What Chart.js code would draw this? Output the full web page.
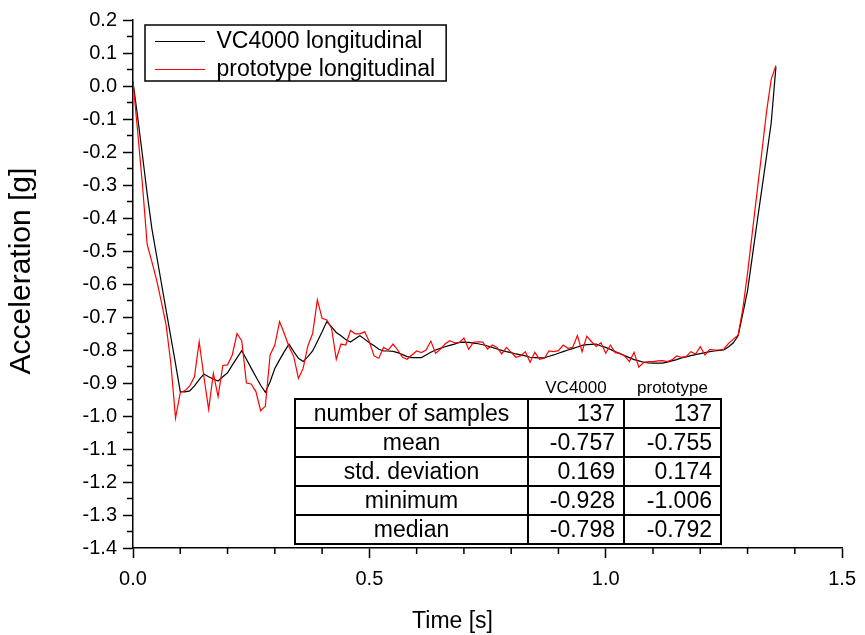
<!DOCTYPE html>
<html>
<head>
<meta charset="utf-8">
<script src="https://cdn.jsdelivr.net/npm/chart.js@4.4.0/dist/chart.umd.min.js"></script>
<style>
    html, body { margin: 0; padding: 0; background: #fff; }
    #wrap { position: relative; width: 865px; height: 635px; }
    #stats {
        position: absolute; left: 294px; top: 377px;
        border-collapse: collapse; table-layout: fixed;
        font-family: 'Liberation Sans', Arial, sans-serif; color: #000;
    }
    #stats td { border: 2px solid #000; height: 27px; padding: 0 8px; font-size: 23px; line-height: 27px; }
    #stats td.name { text-align: center; }
    #stats td.num { text-align: right; }
    #stats th { font-weight: normal; font-size: 17px; height: 21px; text-align: center; padding: 0; }
</style>
</head>
<body>
<div id="wrap">
    <canvas id="accelChart" width="865" height="635"></canvas>
    <table id="stats"></table>
</div>
<script>
// --- Datos ---
const timeS = [
    0.00, 0.01, 0.02, 0.03, 0.04, 0.05, 0.06, 0.07, 0.08, 0.09,
    0.10, 0.11, 0.12, 0.13, 0.14, 0.15, 0.16, 0.17, 0.18, 0.19,
    0.20, 0.21, 0.22, 0.23, 0.24, 0.25, 0.26, 0.27, 0.28, 0.29,
    0.30, 0.31, 0.32, 0.33, 0.34, 0.35, 0.36, 0.37, 0.38, 0.39,
    0.40, 0.41, 0.42, 0.43, 0.44, 0.45, 0.46, 0.47, 0.48, 0.49,
    0.50, 0.51, 0.52, 0.53, 0.54, 0.55, 0.56, 0.57, 0.58, 0.59,
    0.60, 0.61, 0.62, 0.63, 0.64, 0.65, 0.66, 0.67, 0.68, 0.69,
    0.70, 0.71, 0.72, 0.73, 0.74, 0.75, 0.76, 0.77, 0.78, 0.79,
    0.80, 0.81, 0.82, 0.83, 0.84, 0.85, 0.86, 0.87, 0.88, 0.89,
    0.90, 0.91, 0.92, 0.93, 0.94, 0.95, 0.96, 0.97, 0.98, 0.99,
    1.00, 1.01, 1.02, 1.03, 1.04, 1.05, 1.06, 1.07, 1.08, 1.09,
    1.10, 1.11, 1.12, 1.13, 1.14, 1.15, 1.16, 1.17, 1.18, 1.19,
    1.20, 1.21, 1.22, 1.23, 1.24, 1.25, 1.26, 1.27, 1.28, 1.29,
    1.30, 1.31, 1.32, 1.33, 1.34, 1.35, 1.36
];

const vc4000Long = [
    0.013, -0.096, -0.210, -0.327, -0.433, -0.515, -0.597, -0.679, -0.760, -0.842,
    -0.926, -0.927, -0.924, -0.909, -0.890, -0.873, -0.881, -0.888, -0.894, -0.881,
    -0.869, -0.846, -0.824, -0.802, -0.828, -0.855, -0.881, -0.907, -0.928, -0.896,
    -0.856, -0.830, -0.805, -0.782, -0.805, -0.825, -0.835, -0.820, -0.803, -0.774,
    -0.745, -0.714, -0.730, -0.747, -0.757, -0.768, -0.776, -0.766, -0.757, -0.767,
    -0.778, -0.787, -0.798, -0.803, -0.803, -0.804, -0.808, -0.814, -0.820, -0.823,
    -0.823, -0.823, -0.815, -0.807, -0.800, -0.795, -0.790, -0.786, -0.782, -0.777,
    -0.776, -0.777, -0.779, -0.781, -0.784, -0.788, -0.792, -0.797, -0.801, -0.805,
    -0.808, -0.812, -0.815, -0.818, -0.822, -0.823, -0.824, -0.824, -0.819, -0.815,
    -0.810, -0.805, -0.800, -0.796, -0.791, -0.786, -0.784, -0.783, -0.782, -0.788,
    -0.792, -0.798, -0.805, -0.811, -0.817, -0.823, -0.829, -0.833, -0.837, -0.839,
    -0.840, -0.840, -0.840, -0.837, -0.833, -0.829, -0.824, -0.821, -0.817, -0.814,
    -0.811, -0.808, -0.805, -0.803, -0.801, -0.800, -0.790, -0.778, -0.757, -0.690,
    -0.620, -0.518, -0.415, -0.315, -0.214, -0.112, 0.058
];

const prototypeLong = [
    0.013, -0.140, -0.300, -0.480, -0.533, -0.588, -0.654, -0.724, -0.840, -1.006,
    -0.929, -0.923, -0.909, -0.881, -0.775, -0.881, -0.980, -0.871, -0.941, -0.847,
    -0.845, -0.815, -0.750, -0.772, -0.900, -0.903, -0.926, -0.984, -0.970, -0.815,
    -0.785, -0.714, -0.750, -0.790, -0.820, -0.886, -0.855, -0.787, -0.750, -0.648,
    -0.704, -0.709, -0.734, -0.828, -0.782, -0.785, -0.741, -0.751, -0.751, -0.745,
    -0.775, -0.818, -0.825, -0.792, -0.800, -0.782, -0.800, -0.822, -0.828, -0.815,
    -0.803, -0.808, -0.800, -0.773, -0.810, -0.798, -0.782, -0.772, -0.778, -0.778,
    -0.764, -0.798, -0.777, -0.775, -0.776, -0.797, -0.785, -0.792, -0.812, -0.792,
    -0.807, -0.822, -0.818, -0.805, -0.837, -0.807, -0.828, -0.825, -0.803, -0.805,
    -0.802, -0.785, -0.795, -0.792, -0.756, -0.805, -0.758, -0.775, -0.789, -0.778,
    -0.810, -0.785, -0.808, -0.810, -0.818, -0.835, -0.807, -0.852, -0.838, -0.835,
    -0.835, -0.833, -0.832, -0.835, -0.830, -0.818, -0.822, -0.820, -0.805, -0.812,
    -0.790, -0.815, -0.798, -0.800, -0.800, -0.797, -0.780, -0.767, -0.755, -0.675,
    -0.567, -0.445, -0.323, -0.203, -0.080, 0.020, 0.062
];

// Tabla de estadísticas
const statColumns = ['VC4000', 'prototype'];
const statNames = ['number of samples', 'mean', 'std. deviation', 'minimum', 'median'];
const statsVC4000 = ['137', '-0.757', '0.169', '-0.928', '-0.798'];
const statsPrototype = ['137', '-0.755', '0.174', '-1.006', '-0.792'];

const xTitle = 'Time [s]';
const yTitle = 'Acceleration [g]';

const FONT = "'Liberation Sans', Arial, sans-serif";

// --- Tabla HTML encima del gráfico ---
function buildStatsTable() {
    const table = document.getElementById('stats');
    let html = '<colgroup><col style="width:233px"><col style="width:96px"><col style="width:97px"></colgroup>';
    html += '<tr><th></th><th>' + statColumns[0] + '</th><th>' + statColumns[1] + '</th></tr>';
    statNames.forEach((name, i) => {
        html += '<tr><td class="name">' + name + '</td><td class="num">' + statsVC4000[i] +
                '</td><td class="num">' + statsPrototype[i] + '</td></tr>';
    });
    table.innerHTML = html;
}

// Marcas menores de los ejes
const minorTicks = {
    id: 'minorTicks',
    afterDraw(chart) {
        const { ctx, scales: { x, y } } = chart;
        ctx.save();
        ctx.strokeStyle = '#000';
        ctx.lineWidth = 1.5;
        ctx.beginPath();
        for (let i = 1; i < 15; i++) {
            if (i % 5 === 0) continue;
            const px = x.getPixelForValue(i / 10);
            ctx.moveTo(px, y.bottom);
            ctx.lineTo(px, y.bottom + 6);
        }
        for (let i = 0; i < 16; i++) {
            const py = y.getPixelForValue(-1.35 + i / 10);
            ctx.moveTo(x.left - 6, py);
            ctx.lineTo(x.left, py);
        }
        ctx.stroke();
        ctx.restore();
    }
};

// Títulos de los ejes (desplazados como en el original)
const axisTitles = {
    id: 'axisTitles',
    afterDraw(chart) {
        const { ctx, chartArea } = chart;
        ctx.save();
        ctx.fillStyle = '#000';
        ctx.textAlign = 'center';
        ctx.textBaseline = 'middle';
        ctx.font = '23px ' + FONT;
        ctx.fillText(xTitle, (chartArea.left + chartArea.right) / 2 - 35, chart.height - 13);
        ctx.translate(22, (chartArea.top + chartArea.bottom) / 2 - 13);
        ctx.rotate(-Math.PI / 2);
        ctx.font = '30px ' + FONT;
        ctx.fillText(yTitle, 0, 0);
        ctx.restore();
    }
};

// Leyenda dentro del área con marco
const legendFrame = {
    id: 'legendFrame',
    beforeDraw(chart) {
        const legend = chart.legend;
        legend.left = chart.chartArea.left + 17;
        legend.top = chart.chartArea.top + 5;
    },
    afterDraw(chart) {
        const legend = chart.legend;
        const { ctx } = chart;
        const opts = legend.options.labels;
        const size = opts.font.size;
        ctx.save();
        ctx.font = size + 'px ' + FONT;
        const textW = Math.max(...chart.data.datasets.map(d => ctx.measureText(d.label).width));
        const x0 = legend.left - 5;
        const y0 = legend.top;
        const w = 5 + opts.padding + opts.pointStyleWidth + size / 2 + textW + 11;
        const h = chart.data.datasets.length * (size + opts.padding);
        ctx.strokeStyle = '#000';
        ctx.lineWidth = 1.5;
        ctx.strokeRect(x0, y0, w, h);
        ctx.restore();
    }
};

function createAccelChart(ctx) {
    new Chart(ctx, {
        type: 'line',
        data: {
            datasets: [{
                label: 'VC4000 longitudinal',
                data: timeS.map((t, i) => ({ x: t, y: vc4000Long[i] })),
                borderColor: '#000000',
                borderWidth: 1.2,
                pointRadius: 0,
                tension: 0,
                order: 1
            }, {
                label: 'prototype longitudinal',
                data: timeS.map((t, i) => ({ x: t, y: prototypeLong[i] })),
                borderColor: '#ff0000',
                borderWidth: 1.2,
                pointRadius: 0,
                tension: 0,
                order: 0
            }]
        },
        options: {
            responsive: false,
            animation: false,
            layout: { padding: { top: 20, right: 17, left: 0, bottom: 0 } },
            scales: {
                x: {
                    type: 'linear',
                    min: 0,
                    max: 1.5,
                    afterFit: (scale) => { scale.height = 87; },
                    ticks: {
                        stepSize: 0.5,
                        color: '#000',
                        padding: 9,
                        font: { family: FONT, size: 20 },
                        callback: (v) => v.toFixed(1)
                    },
                    grid: { drawOnChartArea: false, tickLength: 10, tickColor: '#000', tickWidth: 1.5 },
                    border: { color: '#000', width: 1.5 }
                },
                y: {
                    min: -1.4,
                    max: 0.2,
                    afterFit: (scale) => { scale.width = 133; },
                    ticks: {
                        stepSize: 0.1,
                        color: '#000',
                        padding: 6,
                        font: { family: FONT, size: 20 },
                        callback: (v) => (Math.abs(v) < 1e-9 ? 0 : v).toFixed(1)
                    },
                    grid: { drawOnChartArea: false, tickLength: 10, tickColor: '#000', tickWidth: 1.5 },
                    border: { color: '#000', width: 1.5 }
                }
            },
            plugins: {
                legend: {
                    position: 'chartArea',
                    align: 'start',
                    labels: {
                        usePointStyle: true,
                        pointStyle: 'line',
                        pointStyleWidth: 50,
                        padding: 5,
                        color: '#000',
                        font: { family: FONT, size: 23 },
                        sort: (a, b) => a.datasetIndex - b.datasetIndex
                    }
                },
                tooltip: { enabled: false }
            }
        },
        plugins: [minorTicks, axisTitles, legendFrame]
    });
}

buildStatsTable();
createAccelChart(document.getElementById('accelChart').getContext('2d'));
</script>
</body>
</html>
